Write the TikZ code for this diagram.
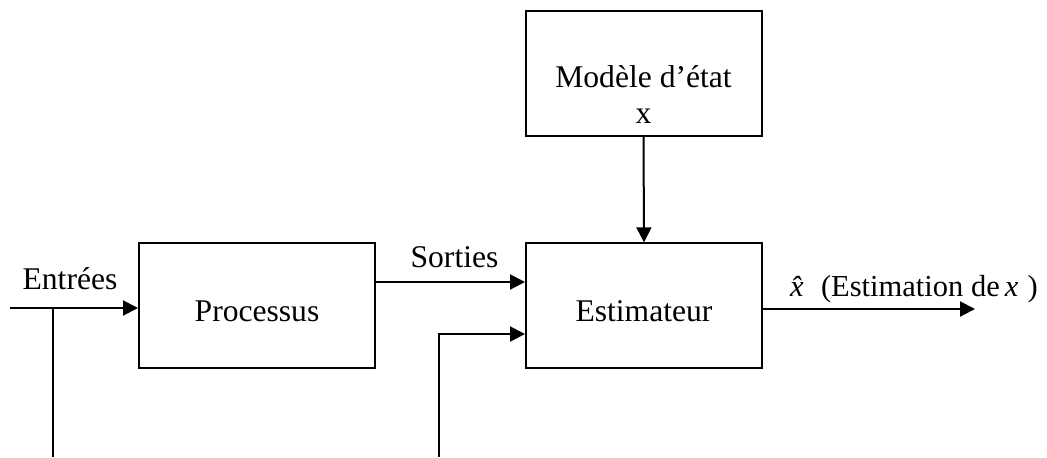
\documentclass[tikz,border=0pt]{standalone}
\usepackage{fontspec}
\setmainfont{Liberation Serif}
\usetikzlibrary{arrows.meta}
\begin{document}
\begin{tikzpicture}[x=0.5pt,y=-0.5pt,
  line width=1pt,
  block/.style={draw, line width=1pt, minimum width=118pt, minimum height=62.5pt, inner sep=0pt},
  lbl/.style={font=\fontsize{15.8}{19}\selectfont, inner sep=0pt, anchor=base},
  small/.style={font=\fontsize{15.25}{18}\selectfont, inner sep=0pt},
  arr/.style={-{Triangle[length=7.5pt,width=7.5pt]}}]
\useasboundingbox (0,0) rectangle (1047,457);

% blocks
\node[block] (proc) at (257,305.8) {};
\node[block] (est)  at (644,305.8) {};
\node[block] (mod)  at (643.5,73.5) {};

% block texts
\node[lbl] (tproc) at (257,321) {Processus};
\node[lbl] (test)  at (644,321) {Estimateur};
\node[lbl] (tmod)  at (643.5,87) {Modèle d’état};
\node[lbl] (tx)    at (643.5,123) {x};

% signal labels
\node[lbl] (tin)  at (70,289) {Entrées};
\node[lbl] (tout) at (454.5,267) {Sorties};
\node[small, anchor=base west] (test2) at (789,296)
  {\textit{\^x}\hspace{0.2em}(Estimation de\,\textit{x}\hspace{0.3em})};

% free ends
\coordinate (in)   at (10,308);
\coordinate (tap)  at (53,457);
\coordinate (meas) at (439,457);
\coordinate (out)  at (975,309);

% connectors
\draw[arr] (in) -- (in -| proc.west);
\draw (tap) -- (tap |- in);
\draw[arr] (proc.east |- 0,282) -- (est.west |- 0,282);
\draw[arr] (meas) |- (est.west |- 0,334);
\draw[arr] (mod.south) -- (est.north);
\draw[arr] (est.east |- out) -- (out);
\end{tikzpicture}
\end{document}
